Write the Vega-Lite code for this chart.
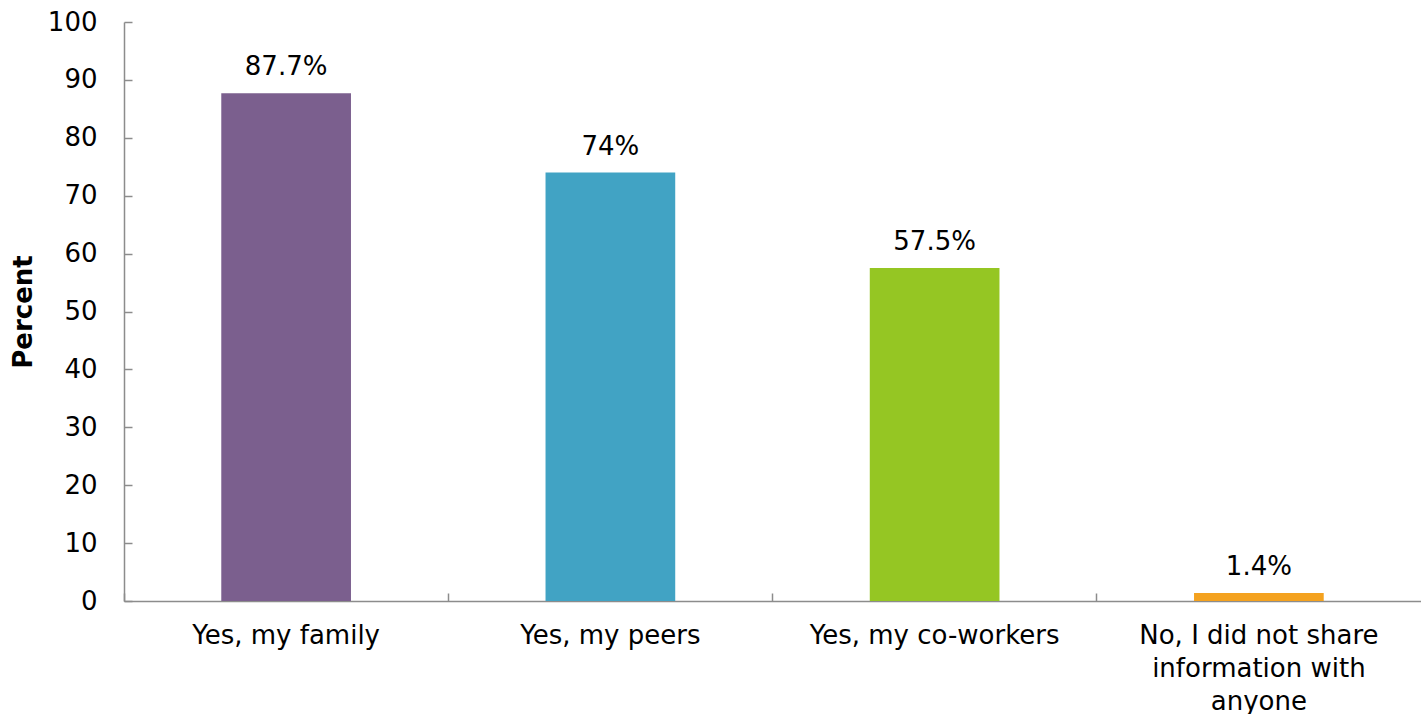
{
  "$schema": "https://vega.github.io/schema/vega-lite/v6.json",
  "autosize": {"type": "none"},
  "width": 1297,
  "height": 579,
  "padding": {"left": 124, "top": 22, "right": 0, "bottom": 113},
  "background": "white",
  "config": {
    "view": {"stroke": null},
    "font": "DejaVu Sans",
    "axis": {"grid": false, "domainColor": "#8c8c8c", "tickColor": "#8c8c8c", "domainWidth": 1.5, "tickWidth": 1.5, "labelColor": "#000", "labelFont": "DejaVu Sans", "labelFontSize": 26, "titleFont": "DejaVu Sans", "labelLimit": 0}
  },
  "data": {
    "values": [
      {"category": "Yes, my family", "value": 87.7, "label": "87.7%"},
      {"category": "Yes, my peers", "value": 74, "label": "74%"},
      {"category": "Yes, my co-workers", "value": 57.5, "label": "57.5%"},
      {"category": "No, I did not share information with anyone", "value": 1.4, "label": "1.4%"}
    ]
  },
  "encoding": {
    "x": {
      "field": "category",
      "type": "nominal",
      "sort": null,
      "scale": {"paddingInner": 0, "paddingOuter": 0},
      "axis": {
        "title": null,
        "labelAngle": 0,
        "bandPosition": 0,
        "tickSize": -8,
        "labelPadding": 29,
        "labelLineHeight": 33,
        "labelBaseline": "top",
        "labelExpr": "datum.value == 'No, I did not share information with anyone' ? ['No, I did not share', 'information with', 'anyone'] : datum.value"
      }
    },
    "y": {
      "field": "value",
      "type": "quantitative",
      "scale": {"domain": [0, 100]},
      "axis": {
        "title": "Percent",
        "titleFontSize": 26,
        "titleFontWeight": "bold",
        "titleColor": "#000",
        "titlePadding": 11,
        "values": [0, 10, 20, 30, 40, 50, 60, 70, 80, 90, 100],
        "tickSize": -8,
        "labelPadding": 35
      }
    }
  },
  "layer": [
    {
      "mark": {"type": "bar", "width": {"band": 0.4}},
      "encoding": {
        "color": {
          "field": "category",
          "type": "nominal",
          "sort": null,
          "scale": {"range": ["#7b5f8e", "#41a3c4", "#95c623", "#f4a21f"]},
          "legend": null
        }
      }
    },
    {
      "mark": {"type": "text", "baseline": "alphabetic", "dy": -18, "fontSize": 26, "color": "#000"},
      "encoding": {"text": {"field": "label"}}
    }
  ]
}
